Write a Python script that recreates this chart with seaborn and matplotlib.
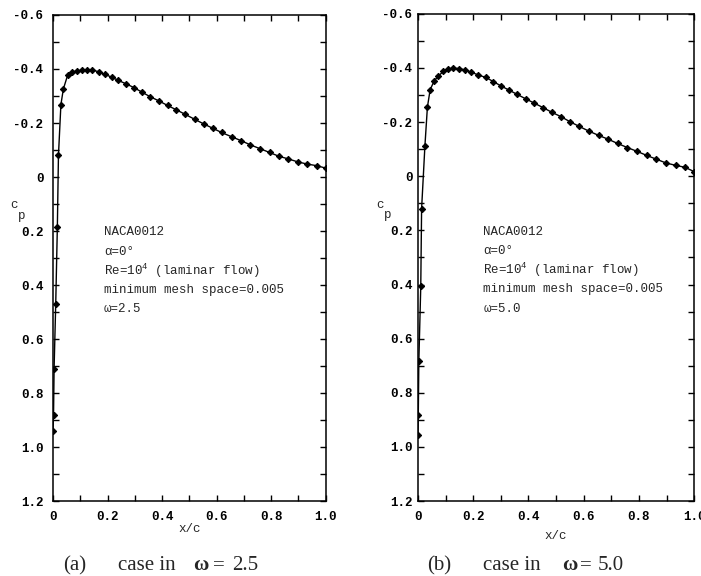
import matplotlib
matplotlib.use("Agg")
import matplotlib.pyplot as plt
import matplotlib.ticker as mticker
import seaborn as sns
import pandas as pd

# Cp distributions (NACA0012, alpha=0, Re=1e4)
x_a = [0.0, 0.002, 0.004, 0.01, 0.016, 0.02, 0.029, 0.038, 0.054, 0.068, 0.087,
       0.105, 0.123, 0.144, 0.167, 0.19, 0.215, 0.239, 0.268, 0.297, 0.325, 0.355,
       0.388, 0.42, 0.452, 0.485, 0.519, 0.552, 0.585, 0.618, 0.655, 0.689, 0.724,
       0.759, 0.794, 0.828, 0.863, 0.898, 0.932, 0.967, 1.0]
cp_a = [0.94, 0.88, 0.71, 0.47, 0.184, -0.08, -0.268, -0.326, -0.378, -0.388, -0.392,
        -0.395, -0.396, -0.396, -0.39, -0.38, -0.37, -0.358, -0.345, -0.331, -0.315,
        -0.298, -0.282, -0.265, -0.249, -0.232, -0.214, -0.197, -0.181, -0.165, -0.149,
        -0.135, -0.119, -0.105, -0.091, -0.077, -0.067, -0.056, -0.048, -0.042, -0.033]

x_b = [0.0, 0.001, 0.003, 0.01, 0.013, 0.025, 0.034, 0.044, 0.059, 0.074, 0.091,
       0.109, 0.127, 0.148, 0.169, 0.192, 0.218, 0.246, 0.272, 0.3, 0.328, 0.358,
       0.39, 0.421, 0.454, 0.485, 0.518, 0.551, 0.584, 0.618, 0.654, 0.688, 0.723,
       0.758, 0.793, 0.828, 0.863, 0.898, 0.934, 0.967, 1.0]
cp_b = [0.956, 0.883, 0.684, 0.407, 0.12, -0.112, -0.255, -0.32, -0.353, -0.37, -0.387,
        -0.396, -0.399, -0.398, -0.393, -0.385, -0.374, -0.365, -0.35, -0.334, -0.319,
        -0.303, -0.286, -0.27, -0.253, -0.236, -0.22, -0.201, -0.184, -0.167, -0.151,
        -0.137, -0.121, -0.106, -0.092, -0.077, -0.063, -0.049, -0.04, -0.033, -0.017]

omegas = ["2.5", "5.0"]
panel_tags = ["(a)", "(b)"]
info_lines = ["NACA0012", "\u03b1=0\u00b0", "Re=10$^{4}$ (laminar flow)",
              "minimum mesh space=0.005"]
x_ticks = [0, 0.2, 0.4, 0.6, 0.8, 1.0]
x_ticklabels = ["0", "0.2", "0.4", "0.6", "0.8", "1.0"]
y_ticks = [-0.6, -0.4, -0.2, 0, 0.2, 0.4, 0.6, 0.8, 1.0, 1.2]
y_ticklabels = ["-0.6", "-0.4", "-0.2", "0", "0.2", "0.4", "0.6", "0.8", "1.0", "1.2"]

sns.set_style("ticks")
mono = ["Liberation Mono", "DejaVu Sans Mono"]
serif = ["Liberation Serif", "DejaVu Serif"]
plt.rcParams["font.family"] = mono
plt.rcParams["mathtext.fontset"] = "custom"
plt.rcParams["mathtext.rm"] = "Liberation Mono"
plt.rcParams["mathtext.it"] = "Liberation Mono"

W, H = 701, 576
fig = plt.figure(figsize=(W / 100, H / 100), dpi=100)
axes = [fig.add_axes([0.0756, 0.130, 0.389, 0.844]),
        fig.add_axes([0.5963, 0.130, 0.394, 0.846])]


def px(x, y):
    return x / W, 1 - y / H


data = [pd.DataFrame({"x/c": x_a, "Cp": cp_a}),
        pd.DataFrame({"x/c": x_b, "Cp": cp_b})]

# pixel anchors for the c_p label and caption pieces of each panel
cp_pos = [((10, 205), (18, 216)), ((376, 205), (384, 215))]
cap_x = [(63, 118, 193, 213, 232), (427, 483, 562, 580, 598)]

for i, ax in enumerate(axes):
    sns.lineplot(data=data[i], x="x/c", y="Cp", sort=False, estimator=None,
                 color="black", linewidth=1.0, marker="D", markersize=3.2,
                 markeredgecolor="black", ax=ax)
    ax.set_xlim(0, 1.0)
    ax.set_ylim(1.2, -0.6)
    ax.set_xticks(x_ticks)
    ax.set_xticklabels(x_ticklabels, fontweight="bold")
    ax.set_yticks(y_ticks)
    ax.set_yticklabels(y_ticklabels, fontweight="bold")
    ax.xaxis.set_minor_locator(mticker.MultipleLocator(0.1))
    ax.yaxis.set_minor_locator(mticker.MultipleLocator(0.1))
    ax.tick_params(which="both", direction="in", top=True, right=True,
                   length=4, width=1.0, color="black")
    ax.tick_params(axis="both", labelsize=9, labelcolor="black")
    ax.tick_params(axis="y", pad=7 if i == 0 else 4)
    ax.tick_params(axis="x", pad=7)
    for sp in ax.spines.values():
        sp.set_linewidth(1.1)
        sp.set_color("black")
    ax.set_xlabel("x/c", fontsize=9, labelpad=0 if i == 0 else 5)
    ax.set_ylabel("")

    (cx, cy), (pxx, pyy) = cp_pos[i]
    fig.text(*px(cx, cy), "c", fontsize=9, ha="left", va="center")
    fig.text(*px(pxx, pyy), "p", fontsize=9, ha="left", va="center")

    # annotation block
    lines = info_lines + ["\u03c9=" + omegas[i]]
    x0 = 0.187 if i == 0 else 0.236
    for k, s in enumerate(lines):
        ax.text(x0, 0.205 + 0.071 * k, s, fontsize=9, ha="left", va="center")

    # caption below each panel
    pieces = [panel_tags[i], "case in", "\u03c9", "=", omegas[i]]
    for k, (s, xp) in enumerate(zip(pieces, cap_x[i])):
        fig.text(*px(xp, 570), s, fontsize=15, family=serif,
                 weight="bold" if s == "\u03c9" else "normal",
                 ha="left", va="baseline")

fig.savefig("out.png", dpi=100)
